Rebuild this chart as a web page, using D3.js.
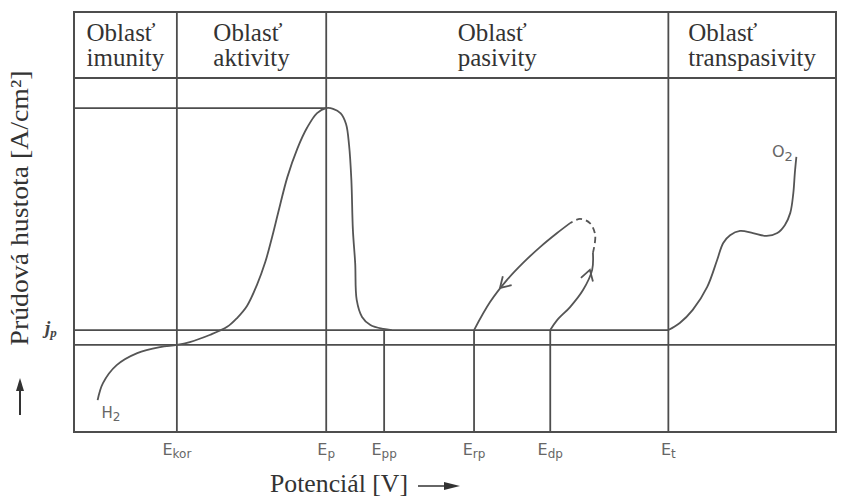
<!DOCTYPE html>
<html>
<head>
<meta charset="utf-8">
<script src="https://cdn.jsdelivr.net/npm/d3@7/dist/d3.min.js"></script>
<style>
  html, body { margin: 0; padding: 0; background: #fff; }
  svg { display: block; }
</style>
</head>
<body>
<svg id="chart" width="846" height="498"></svg>
<script>
// ---------- data (arbitrary units) ----------
const regionTitle = "Oblasť";
const regionNames = ["imunity", "aktivity", "pasivity", "transpasivity"];
const regionBounds = [0, 13.5, 33.1, 78.0, 100];

const markerNames = ["kor", "p", "pp", "rp", "dp", "t"];
const markerValues = [13.5, 33.1, 40.7, 52.5, 62.5, 78.0];
const markerFull = [true, true, false, false, false, true];

const jMax = 91.5;      // critical passivation current
const jP = 28.8;        // passive current density j_p
const jBase = 24.6;     // lower reference line

// active region: from H2 evolution through peak to passivation
const activeCurve = [
  [3.1, 9.0], [3.8, 13.8], [5.6, 18.9], [8.3, 22.3], [11.3, 24.0], [13.5, 24.6],
  [15.2, 25.4], [17.8, 27.4], [20.1, 29.7], [21.4, 32.2], [22.7, 35.6], [24.0, 41.5],
  [25.1, 48.0], [26.0, 55.1], [26.8, 62.0], [28.0, 72.0], [29.3, 80.0], [30.6, 86.0],
  [31.9, 90.1], [33.1, 91.5], [34.0, 91.3], [35.0, 90.0], [35.7, 87.0], [36.1, 81.0],
  [36.4, 71.2], [36.6, 57.1], [36.9, 47.7], [37.1, 37.3], [37.8, 32.5], [38.9, 30.2],
  [40.6, 29.1], [41.7, 28.8]
];
// transpassive rise to O2
const transCurve = [
  [78.0, 28.8], [79.5, 30.8], [81.2, 34.5], [83.1, 41.0], [84.4, 48.6], [85.2, 53.4],
  [86.1, 55.6], [87.4, 56.8], [89.1, 56.2], [90.9, 55.4], [92.3, 56.2], [93.3, 58.5],
  [94.0, 61.9], [94.4, 67.5], [94.6, 73.2], [94.8, 77.7]
];
// pitting loop
const loopUp = [[62.5, 28.8], [63.4, 31.6], [65.1, 35.3], [66.8, 40.1], [68.0, 45.8], [68.1, 50.6]];
const loopTop = [[68.1, 50.6], [68.4, 55.6], [67.7, 59.0], [66.4, 60.2], [65.1, 59.0]];
const loopDown = [[65.1, 59.0], [63.4, 56.2], [61.2, 52.3], [58.9, 47.7], [56.8, 42.9], [54.6, 36.7], [52.5, 28.8]];
// arrows: [tipX, tipY, backX, backY]
const arrows = [[55.9, 40.7, 57.5, 44.1], [67.7, 45.8, 67.1, 41.5]];

// ---------- layout ----------
const svg = d3.select("#chart");
const L = 74, R = 836, T = 12, HB = 78, B = 432;
const x = d3.scaleLinear().domain([0, 100]).range([L, R]);
const y = d3.scaleLinear().domain([0, 100]).range([B, HB]);

const lineCol = "#4d4d4d";
const curveCol = "#555";
const serif = "'Liberation Serif', 'Times New Roman', serif";
const sans = "'DejaVu Sans', sans-serif";

const g = svg.append("g");

// frame
g.append("rect").attr("x", L).attr("y", T).attr("width", R - L).attr("height", B - T)
  .attr("fill", "none").attr("stroke", lineCol).attr("stroke-width", 2);
// header bottom
g.append("line").attr("x1", L).attr("x2", R).attr("y1", HB).attr("y2", HB)
  .attr("stroke", lineCol).attr("stroke-width", 2);

// region dividers / potential markers
markerValues.forEach((v, i) => {
  g.append("line")
    .attr("x1", x(v)).attr("x2", x(v))
    .attr("y1", markerFull[i] ? T : y(jP)).attr("y2", B)
    .attr("stroke", lineCol).attr("stroke-width", 1.8);
});

// horizontal reference lines
g.append("line").attr("x1", x(0)).attr("x2", x(33.1)).attr("y1", y(jMax)).attr("y2", y(jMax))
  .attr("stroke", lineCol).attr("stroke-width", 1.8);
g.append("line").attr("x1", x(0)).attr("x2", x(78.0)).attr("y1", y(jP)).attr("y2", y(jP))
  .attr("stroke", lineCol).attr("stroke-width", 1.8);
g.append("line").attr("x1", x(0)).attr("x2", x(100)).attr("y1", y(jBase)).attr("y2", y(jBase))
  .attr("stroke", lineCol).attr("stroke-width", 1.8);

// curves
const line = d3.line().x(d => x(d[0])).y(d => y(d[1])).curve(d3.curveCatmullRom.alpha(0.5));
[activeCurve, transCurve, loopUp, loopDown].forEach(c => {
  g.append("path").attr("d", line(c)).attr("fill", "none")
    .attr("stroke", curveCol).attr("stroke-width", 1.8);
});
g.append("path").attr("d", line(loopTop)).attr("fill", "none")
  .attr("stroke", curveCol).attr("stroke-width", 1.8).attr("stroke-dasharray", "6,4");

// arrowheads (open chevrons)
arrows.forEach(a => {
  const tx = x(a[0]), ty = y(a[1]), bx = x(a[2]), by = y(a[3]);
  const ang = Math.atan2(by - ty, bx - tx);
  const len = 12, spread = 0.55;
  const p1 = [tx + len * Math.cos(ang + spread), ty + len * Math.sin(ang + spread)];
  const p2 = [tx + len * Math.cos(ang - spread), ty + len * Math.sin(ang - spread)];
  g.append("path")
    .attr("d", `M${p1[0]},${p1[1]}L${tx},${ty}L${p2[0]},${p2[1]}`)
    .attr("fill", "none").attr("stroke", curveCol).attr("stroke-width", 1.8);
});

// header texts
regionNames.forEach((name, i) => {
  const cx = (x(regionBounds[i]) + x(regionBounds[i + 1])) / 2;
  const tg = g.append("g");
  const t1 = tg.append("text").attr("y", 41).text(regionTitle);
  const t2 = tg.append("text").attr("y", 66).text(name);
  tg.selectAll("text").attr("font-family", serif).attr("font-size", 25).attr("fill", "#333");
  const w = Math.max(t1.node().getComputedTextLength(), t2.node().getComputedTextLength());
  tg.selectAll("text").attr("x", cx - w / 2);
});

// potential labels
markerNames.forEach((n, i) => {
  const t = g.append("text").attr("x", x(markerValues[i])).attr("y", 455)
    .attr("text-anchor", "middle").attr("font-family", sans).attr("font-size", 16).attr("fill", "#666");
  t.append("tspan").text("E");
  t.append("tspan").attr("font-size", 12).attr("dy", 3).text(n);
});

// j_p label
const jt = g.append("text").attr("x", 45).attr("y", y(jP) + 4)
  .attr("font-family", serif).attr("font-style", "italic").attr("font-weight", "bold")
  .attr("font-size", 19).attr("fill", "#444");
jt.append("tspan").text("j");
jt.append("tspan").attr("font-size", 13).attr("dy", 3).text("p");

// H2 and O2 labels
const h2 = g.append("text").attr("x", x(3.6)).attr("y", y(9.0) + 18)
  .attr("font-family", sans).attr("font-size", 15).attr("fill", "#666");
h2.append("tspan").text("H");
h2.append("tspan").attr("font-size", 12).attr("dy", 3).text("2");
const o2 = g.append("text").attr("x", x(91.6)).attr("y", y(77.7) + 0)
  .attr("font-family", sans).attr("font-size", 16).attr("fill", "#666");
o2.append("tspan").text("O");
o2.append("tspan").attr("font-size", 13).attr("dy", 4).text("2");

// axis titles
g.append("text")
  .attr("transform", `translate(28, 208) rotate(-90)`)
  .attr("text-anchor", "middle").attr("font-family", serif).attr("font-size", 25).attr("fill", "#333")
  .attr("textLength", 275).attr("lengthAdjust", "spacingAndGlyphs")
  .text("Prúdová hustota [A/cm²]");
// y arrow
g.append("line").attr("x1", 20).attr("x2", 20).attr("y1", 415).attr("y2", 386)
  .attr("stroke", "#333").attr("stroke-width", 2);
g.append("path").attr("d", "M20,378L16,391L24,391Z").attr("fill", "#333");

g.append("text").attr("x", 270).attr("y", 492)
  .attr("font-family", serif).attr("font-size", 25).attr("fill", "#333")
  .attr("textLength", 138).attr("lengthAdjust", "spacingAndGlyphs")
  .text("Potenciál [V]");
g.append("line").attr("x1", 418).attr("x2", 448).attr("y1", 486).attr("y2", 486)
  .attr("stroke", "#333").attr("stroke-width", 1.5);
g.append("path").attr("d", "M460,486L444,482L444,490Z").attr("fill", "#333");
</script>
</body>
</html>
